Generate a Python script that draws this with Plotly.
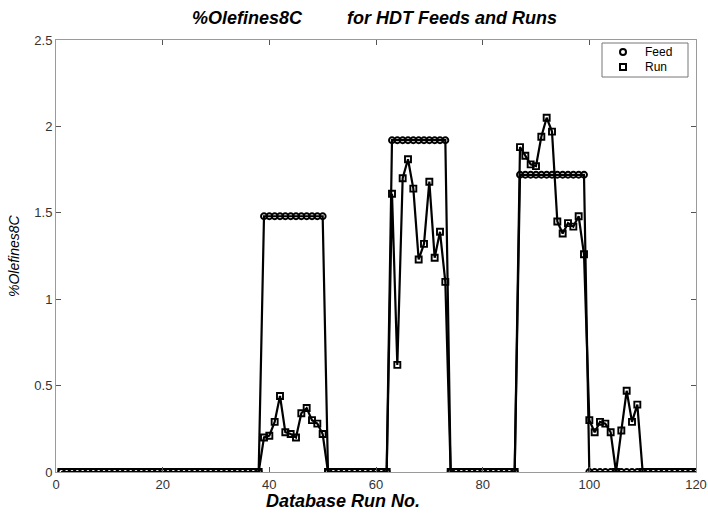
import plotly.graph_objects as go

run_no = list(range(1, 121))

feed = [
    0, 0, 0, 0, 0, 0, 0, 0, 0, 0,
    0, 0, 0, 0, 0, 0, 0, 0, 0, 0,
    0, 0, 0, 0, 0, 0, 0, 0, 0, 0,
    0, 0, 0, 0, 0, 0, 0, 0,
    1.48, 1.48, 1.48, 1.48, 1.48, 1.48, 1.48, 1.48, 1.48, 1.48, 1.48, 1.48,
    0, 0, 0, 0, 0, 0, 0, 0, 0, 0, 0, 0,
    1.92, 1.92, 1.92, 1.92, 1.92, 1.92, 1.92, 1.92, 1.92, 1.92, 1.92,
    0, 0, 0, 0, 0, 0, 0, 0, 0, 0, 0, 0, 0,
    1.72, 1.72, 1.72, 1.72, 1.72, 1.72, 1.72, 1.72, 1.72, 1.72, 1.72, 1.72, 1.72,
    0, 0, 0, 0, 0, 0, 0, 0, 0, 0,
    0, 0, 0, 0, 0, 0, 0, 0, 0, 0, 0,
]

run = [
    0, 0, 0, 0, 0, 0, 0, 0, 0, 0,
    0, 0, 0, 0, 0, 0, 0, 0, 0, 0,
    0, 0, 0, 0, 0, 0, 0, 0, 0, 0,
    0, 0, 0, 0, 0, 0, 0, 0,
    0.20, 0.21, 0.29, 0.44, 0.23, 0.22, 0.20, 0.34, 0.37, 0.30, 0.28, 0.22,
    0, 0, 0, 0, 0, 0, 0, 0, 0, 0, 0, 0,
    1.61, 0.62, 1.70, 1.81, 1.64, 1.23, 1.32, 1.68, 1.24, 1.39, 1.10,
    0, 0, 0, 0, 0, 0, 0, 0, 0, 0, 0, 0, 0,
    1.88, 1.83, 1.78, 1.77, 1.94, 2.05, 1.97, 1.45, 1.38, 1.44, 1.42, 1.48, 1.26,
    0.30, 0.23, 0.29, 0.28, 0.23, 0, 0.24, 0.47, 0.29, 0.39,
    0, 0, 0, 0, 0, 0, 0, 0, 0, 0, 0,
]

series_names = ["Feed", "Run"]
x_ticks = [0, 20, 40, 60, 80, 100, 120]
y_ticks = [0, 0.5, 1, 1.5, 2, 2.5]
y_tick_text = ["0", "0.5", "1", "1.5", "2", "2.5"]

FONT = "Liberation Sans, Arial, sans-serif"

# plot area in pixels
L, R, T, B = 56, 696, 40, 472
W, H = R - L, B - T


def px(xp):
    return (xp - L) / W


def py(yp):
    return (B - yp) / H


fig = go.Figure()
for vals, sym, name in [(feed, "circle-open", series_names[0]), (run, "square-open", series_names[1])]:
    fig.add_trace(go.Scatter(
        x=run_no, y=vals, mode="lines+markers", name=name, showlegend=False,
        line=dict(color="black", width=2.2),
        marker=dict(symbol=sym, size=6, color="black", line=dict(width=1.9, color="black")),
    ))

axis_common = dict(
    showgrid=False, zeroline=False, showline=True, linecolor="#9a9a9a", linewidth=1,
    mirror="ticks", ticks="inside", ticklen=5, tickcolor="#555555", automargin=False,
    tickfont=dict(family=FONT, size=13, color="#333333"),
)

fig.update_layout(
    width=708, height=514,
    paper_bgcolor="white", plot_bgcolor="white",
    margin=dict(l=L, r=708 - R, t=T, b=514 - B, autoexpand=False),
    title=dict(
        text="%Olefines8C" + "\u00a0" * 9 + "for HDT Feeds and Runs",
        x=374.5 / 708, xanchor="center", y=1 - 18 / 514, yanchor="middle", yref="container",
        font=dict(family=FONT, size=18, color="black", weight="bold", style="italic"),
        automargin=False,
    ),
    xaxis=dict(range=[0, 120], tickvals=x_ticks, **axis_common),
    yaxis=dict(range=[0, 2.5], tickvals=y_ticks, ticktext=y_tick_text, **axis_common),
    showlegend=False,
)

# legend box (drawn as layout decoration)
legend_rows = [52, 67]
fig.add_shape(type="rect", xref="paper", yref="paper",
              x0=px(602), x1=px(688), y0=py(77), y1=py(43),
              line=dict(color="#777777", width=1), fillcolor="white", layer="above")
r = 3
fig.add_shape(type="circle", xref="paper", yref="paper",
              x0=px(623 - r), x1=px(623 + r), y0=py(legend_rows[0] + r), y1=py(legend_rows[0] - r),
              line=dict(color="black", width=2), layer="above")
fig.add_shape(type="rect", xref="paper", yref="paper",
              x0=px(623 - r), x1=px(623 + r), y0=py(legend_rows[1] + r), y1=py(legend_rows[1] - r),
              line=dict(color="black", width=2), layer="above")
for name, yp in zip(series_names, legend_rows):
    fig.add_annotation(text=name, xref="paper", yref="paper", x=px(643), y=py(yp),
                       xanchor="left", yanchor="middle", showarrow=False,
                       font=dict(family=FONT, size=12, color="black"))

fig.add_annotation(
    text="Database Run No.", xref="paper", yref="paper",
    x=px(343), y=py(501), xanchor="center", yanchor="middle",
    showarrow=False, font=dict(family=FONT, size=18, color="black", weight="bold", style="italic"),
)
fig.add_annotation(
    text="%Olefines8C", xref="paper", yref="paper",
    x=px(14), y=0.5, xanchor="center", yanchor="middle", textangle=-90,
    showarrow=False, font=dict(family=FONT, size=14, color="black", style="italic"),
)

fig.write_html("out.html", config={"displayModeBar": False},
               post_script="document.body.style.margin='0';document.body.style.overflow='hidden';")
